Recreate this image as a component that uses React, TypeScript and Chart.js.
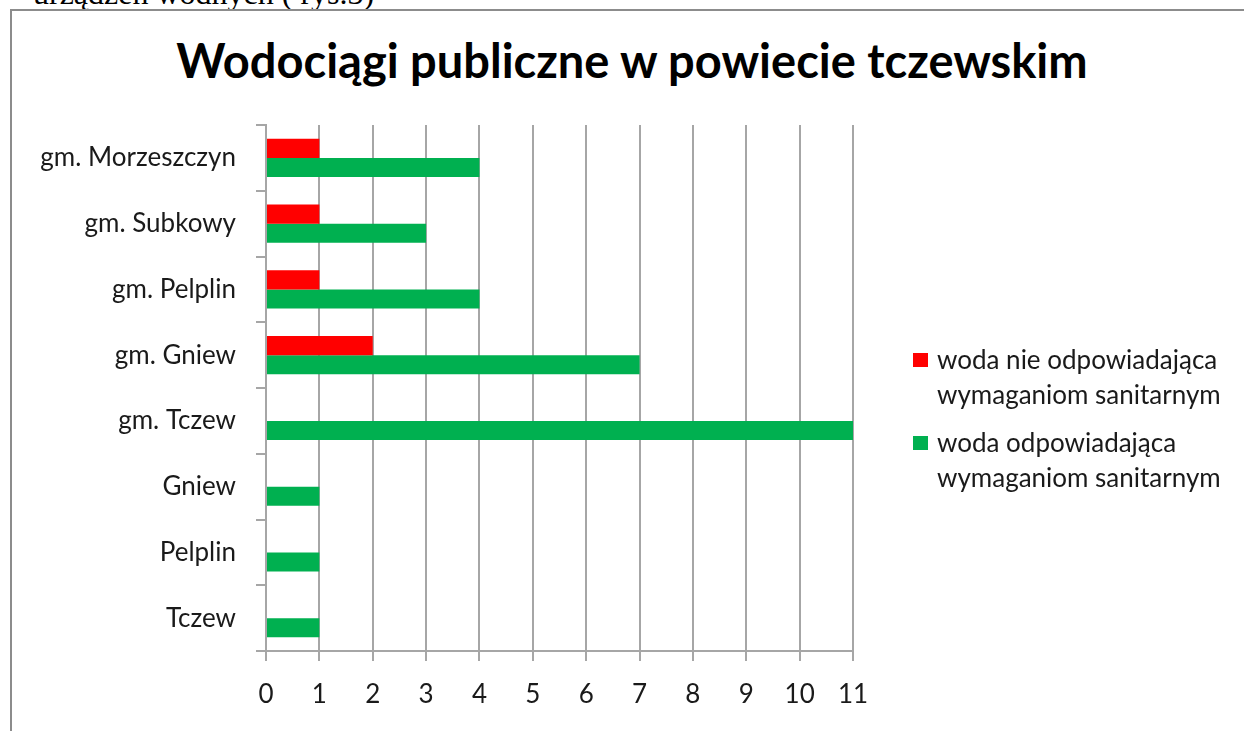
import React, { useEffect, useRef } from "react";
import { Chart, registerables } from "chart.js";

Chart.register(...registerables);

const categories = [
  "gm. Morzeszczyn",
  "gm. Subkowy",
  "gm. Pelplin",
  "gm. Gniew",
  "gm. Tczew",
  "Gniew",
  "Pelplin",
  "Tczew",
];
const badWater = [1, 1, 1, 2, 0, 0, 0, 0];
const goodWater = [4, 3, 4, 7, 11, 1, 1, 1];
const badLabel = ["woda nie odpowiadająca", "wymaganiom sanitarnym"];
const goodLabel = ["woda odpowiadająca", "wymaganiom sanitarnym"];
const xTicks = [0, 1, 2, 3, 4, 5, 6, 7, 8, 9, 10, 11];
const titleText = "Wodociągi publiczne w powiecie tczewskim";
const aboveText = "urządzeń wodnych ( rys.3)";

const RED = "#ff0000";
const GREEN = "#00b050";
const GRID = "#a6a6a6";
const FONT = "Lato, 'Open Sans', sans-serif";
const FS = 26;

export default function App() {
  const ref = useRef<HTMLCanvasElement | null>(null);

  useEffect(() => {
    if (!ref.current) return;
    const chart = new Chart(ref.current, {
      type: "bar",
      data: {
        labels: categories,
        datasets: [
          {
            label: badLabel.join(" "),
            data: badWater,
            backgroundColor: RED,
            borderWidth: 0,
            categoryPercentage: 0.58,
            barPercentage: 1,
          },
          {
            label: goodLabel.join(" "),
            data: goodWater,
            backgroundColor: GREEN,
            borderWidth: 0,
            categoryPercentage: 0.58,
            barPercentage: 1,
          },
        ],
      },
      options: {
        indexAxis: "y",
        animation: false,
        responsive: false,
        maintainAspectRatio: false,
        layout: { padding: { left: 20, top: 125, right: 391, bottom: 20 } },
        plugins: {
          legend: { display: false },
          title: { display: false },
          tooltip: { enabled: false },
        },
        scales: {
          x: {
            type: "linear",
            min: 0,
            max: 11,
            afterBuildTicks: (scale: any) => {
              scale.ticks = xTicks.map((v) => ({ value: v }));
            },
            afterFit: (scale: any) => {
              scale.height = 731 - 20 - 651;
            },
            grid: {
              color: GRID,
              lineWidth: 2,
              tickLength: 10,
              drawTicks: true,
            },
            border: { display: true, color: GRID, width: 2 },
            ticks: {
              color: "#1a1a1a",
              padding: 18,
              font: { family: FONT, size: FS },
            },
          },
          y: {
            type: "category",
            afterFit: (scale: any) => {
              scale.width = 266 - 20;
            },
            grid: {
              offset: true,
              drawOnChartArea: false,
              drawTicks: true,
              tickLength: 10,
              color: GRID,
              lineWidth: 2,
            },
            border: { display: true, color: GRID, width: 2 },
            ticks: {
              color: "#1a1a1a",
              padding: 20,
              font: { family: FONT, size: FS },
            },
          },
        },
      },
    });
    return () => chart.destroy();
  }, []);

  const legendItems = [
    { color: RED, lines: badLabel, top: 342 },
    { color: GREEN, lines: goodLabel, top: 425 },
  ];

  return (
    <div
      style={{
        position: "fixed",
        left: 0,
        top: 0,
        width: 1244,
        height: 731,
        overflow: "hidden",
        background: "#fff",
      }}
    >
      <div
        style={{
          position: "absolute",
          left: 33,
          top: -23,
          fontFamily: "'Liberation Serif', 'Times New Roman', serif",
          fontSize: 32,
          lineHeight: "32px",
          whiteSpace: "nowrap",
          color: "#000",
        }}
      >
        {aboveText}
      </div>
      <div
        style={{
          position: "absolute",
          left: 10,
          top: 9,
          width: 1400,
          height: 900,
          border: "2px solid #8c8c8c",
          boxSizing: "border-box",
        }}
      />
      <div
        style={{
          position: "absolute",
          left: 0,
          width: 1264,
          top: 32,
          textAlign: "center",
          fontFamily: FONT,
          fontWeight: 700,
          fontSize: 47,
          lineHeight: 1.2,
          color: "#000",
          whiteSpace: "nowrap",
        }}
      >
        {titleText}
      </div>
      <canvas
        ref={ref}
        width={1244}
        height={731}
        style={{ position: "absolute", left: 0, top: 0, width: 1244, height: 731 }}
      />
      {legendItems.map((it, i) => (
        <div
          key={i}
          style={{
            position: "absolute",
            left: 913,
            top: it.top,
            fontFamily: FONT,
            fontSize: FS,
            lineHeight: "35px",
            color: "#1a1a1a",
            whiteSpace: "nowrap",
          }}
        >
          <span
            style={{
              position: "absolute",
              left: 0,
              top: 11,
              width: 15,
              height: 14,
              background: it.color,
            }}
          />
          <div style={{ marginLeft: 24 }}>
            {it.lines.map((l, j) => (
              <div key={j}>{l}</div>
            ))}
          </div>
        </div>
      ))}
    </div>
  );
}
